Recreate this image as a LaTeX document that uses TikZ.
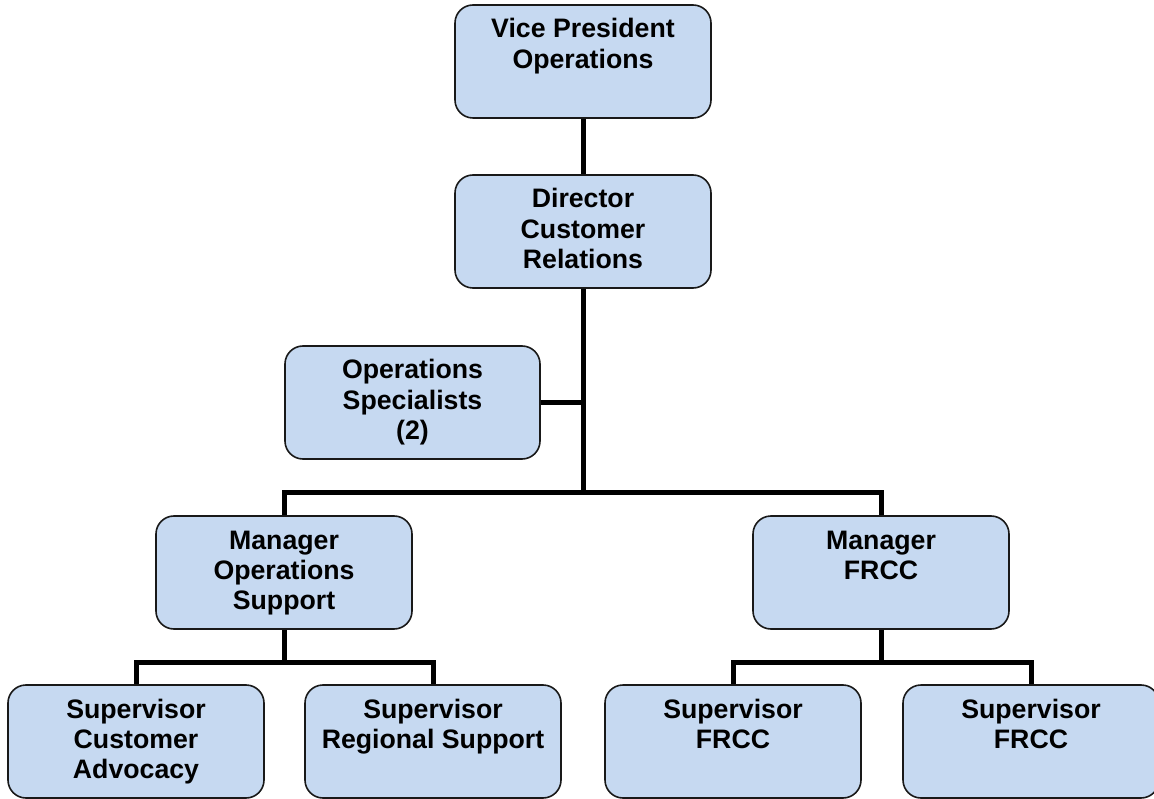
\documentclass[tikz,border=0pt]{standalone}
\usepackage{fontspec}
\setmainfont{Liberation Sans}
\definecolor{boxfill}{RGB}{198,217,241}
\newcommand{\boxlines}[1]{\parbox[c][113pt][t]{250pt}{\centering\fontsize{26.7}{30.3}\selectfont\bfseries\rule{0pt}{33pt}#1\par}}
\tikzset{
  orgbox/.style={draw=black!90, line width=1.6pt, fill=boxfill, rounded corners=18pt,
    minimum width=256pt, minimum height=113pt, inner sep=0pt},
  link/.style={draw=black, line width=5pt}
}
\begin{document}
\begin{tikzpicture}[x=1pt,y=-1pt]
\useasboundingbox (0,0) rectangle (1154,799);
% boxes
\node[orgbox] (vp)  at (583,61.5)   {\boxlines{Vice President\\Operations}};
\node[orgbox] (dir) at (583,231.5)  {\boxlines{Director\\Customer\\Relations}};
\node[orgbox, minimum width=255pt] (ops) at (412.5,402.5) {\boxlines{Operations\\Specialists\\(2)}};
\node[orgbox] (mos) at (284,572.5)  {\boxlines{Manager\\Operations\\Support}};
\node[orgbox] (mf)  at (881,572.5)  {\boxlines{Manager\\FRCC}};
\node[orgbox] (sca) at (136,741.5)  {\boxlines{Supervisor\\Customer\\Advocacy}};
\node[orgbox] (srs) at (433,741.5)  {\boxlines{Supervisor\\Regional Support}};
\node[orgbox] (sf1) at (733,741.5)  {\boxlines{Supervisor\\FRCC}};
\node[orgbox] (sf2) at (1031,741.5) {\boxlines{Supervisor\\FRCC}};
% junction points
\coordinate (bus) at (583,492);
\coordinate (busl) at (284,662);
\coordinate (busr) at (881,662);
% connectors
\draw[link] (vp.south) -- (dir.north);
\draw[link] (dir.south) -- (bus);
\draw[link] (ops.east) -- (ops.east -| dir.south);
\draw[link] (mos.north) -- (mos.north |- bus) -- (mf.north |- bus) -- (mf.north);
\draw[link] (mos.south) -- (busl);
\draw[link] (sca.north) -- (sca.north |- busl) -- (srs.north |- busl) -- (srs.north);
\draw[link] (mf.south) -- (busr);
\draw[link] (sf1.north) -- (sf1.north |- busr) -- (sf2.north |- busr) -- (sf2.north);
\end{tikzpicture}
\end{document}
